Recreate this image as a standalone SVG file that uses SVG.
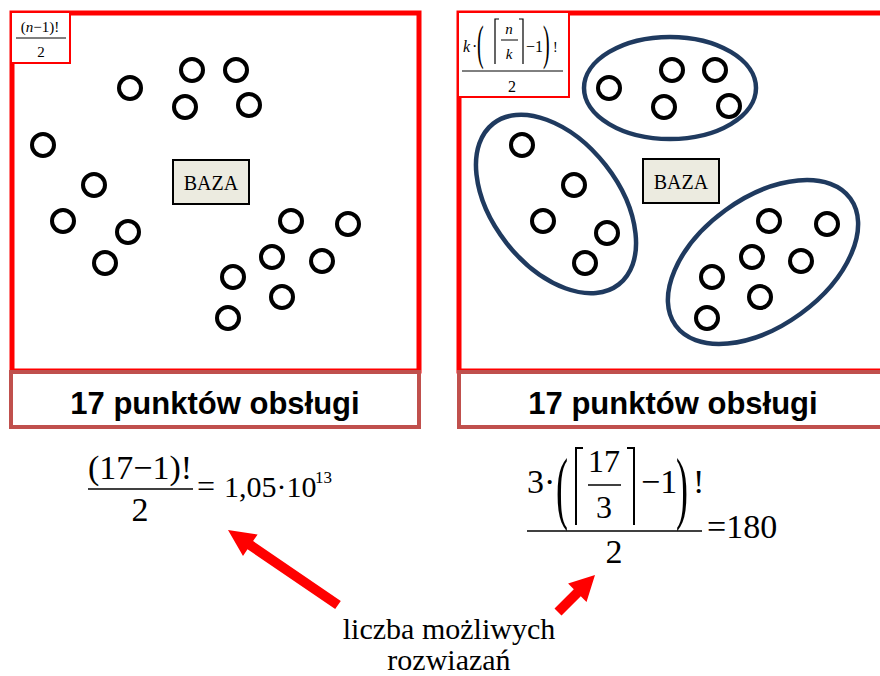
<svg xmlns="http://www.w3.org/2000/svg" width="880" height="676" viewBox="0 0 880 676">
<style>
.panel{fill:none;stroke:#ff0000;stroke-width:5}
.lbl{fill:#ffffff;stroke:#c0504d;stroke-width:4}
.fbox{fill:#ffffff;stroke:#ff0000;stroke-width:2}
.pt{fill:#ffffff;stroke:#000000;stroke-width:4}
.grp{fill:none;stroke:#1f3a5f;stroke-width:4.5}
.baza{fill:#ecebe0;stroke:#000000;stroke-width:2}
.bt{font-family:"Liberation Serif",serif;font-size:20px;fill:#000}
.lt{font-family:"Liberation Sans",Arial,sans-serif;font-weight:bold;font-size:31px;fill:#000}
.m{font-family:"Liberation Serif",serif;fill:#000}
.i{font-style:italic}
.fl{stroke:#000;stroke-width:1.6}
.fls{stroke:#000;stroke-width:1}
.br{fill:none;stroke:#000;stroke-width:2}
.brs{fill:none;stroke:#000;stroke-width:1.2}
.arr{fill:#ff0000}
</style>
<defs>
<circle id="c" r="11" class="pt"/>
</defs>

<g id="left-panel">
<rect class="panel" x="12" y="13" width="407" height="358"/>
<rect class="lbl" x="11" y="372" width="408" height="55"/>
<text class="lt" x="215" y="414" text-anchor="middle">17 punktów obsługi</text>
</g>
<g id="right-panel">
<rect class="panel" x="459" y="13" width="440" height="358"/>
<rect class="lbl" x="459" y="372" width="440" height="55"/>
<text class="lt" x="673" y="414" text-anchor="middle">17 punktów obsługi</text>
</g>

<g id="left-formula-box">
<rect class="fbox" x="11" y="12" width="59" height="51"/>
<text class="m" x="40" y="32" font-size="15" text-anchor="middle">(<tspan class="i">n</tspan>−1)!</text>
<line class="fls" x1="16" y1="38" x2="66" y2="38"/>
<text class="m" x="41" y="57" font-size="15" text-anchor="middle">2</text>
</g>

<g id="right-formula-box">
<rect class="fbox" x="458" y="12" width="111" height="85"/>
<text class="m i" x="463" y="52" font-size="16">k</text>
<text class="m" x="472" y="52" font-size="16">·</text>
<text class="m" font-size="20" transform="matrix(1,0,0,2.4,477,59)">(</text>
<polyline class="brs" points="499,19 495,19 495,64"/>
<text class="m i" x="509" y="34" font-size="15" text-anchor="middle">n</text>
<line class="fls" x1="501" y1="40" x2="518" y2="40"/>
<text class="m i" x="509" y="59" font-size="15" text-anchor="middle">k</text>
<polyline class="brs" points="519,19 523,19 523,64"/>
<text class="m" x="526" y="52" font-size="16">−1</text>
<text class="m" font-size="20" transform="matrix(1,0,0,2.4,543,59)">)</text>
<text class="m" x="553" y="52" font-size="14">!</text>
<line class="fls" x1="462" y1="71" x2="563" y2="71"/>
<text class="m" x="512" y="92" font-size="16" text-anchor="middle">2</text>
</g>

<g id="left-base">
<rect class="baza" x="173" y="160" width="76" height="44"/>
<text class="bt" x="211" y="190" text-anchor="middle">BAZA</text>
</g>
<g id="right-base">
<rect class="baza" x="643" y="159" width="76" height="44"/>
<text class="bt" x="681" y="189" text-anchor="middle">BAZA</text>
</g>

<g id="left-points">
<use href="#c" x="130" y="88"/><use href="#c" x="192" y="70"/><use href="#c" x="236" y="70"/>
<use href="#c" x="185" y="107"/><use href="#c" x="249" y="105"/><use href="#c" x="43" y="145"/>
<use href="#c" x="94" y="185"/><use href="#c" x="63" y="221"/><use href="#c" x="128" y="232"/>
<use href="#c" x="105" y="263"/><use href="#c" x="291" y="221"/><use href="#c" x="348" y="224"/>
<use href="#c" x="272" y="257"/><use href="#c" x="322" y="261"/><use href="#c" x="233" y="277"/>
<use href="#c" x="282" y="297"/><use href="#c" x="228" y="318"/>
</g>

<g id="right-groups">
<ellipse class="grp" cx="670" cy="88" rx="86" ry="51"/>
<ellipse class="grp" cx="556" cy="204" rx="102" ry="63" transform="rotate(52 556 204)"/>
<ellipse class="grp" cx="763" cy="262" rx="108" ry="64" transform="rotate(-36 763 262)"/>
</g>

<g id="right-points">
<use href="#c" x="609" y="88"/><use href="#c" x="672" y="70"/><use href="#c" x="715" y="70"/>
<use href="#c" x="664" y="107"/><use href="#c" x="729" y="106"/><use href="#c" x="522" y="145"/>
<use href="#c" x="574" y="185"/><use href="#c" x="543" y="221"/><use href="#c" x="607" y="233"/>
<use href="#c" x="585" y="263"/><use href="#c" x="769" y="221"/><use href="#c" x="827" y="224"/>
<use href="#c" x="752" y="257"/><use href="#c" x="801" y="261"/><use href="#c" x="712" y="277"/>
<use href="#c" x="760" y="297"/><use href="#c" x="707" y="318"/>
</g>

<g id="formula-left">
<text class="m" x="140" y="479" font-size="34" text-anchor="middle">(17−1)!</text>
<line class="fl" x1="88" y1="489" x2="193" y2="489"/>
<text class="m" x="140" y="521" font-size="34" text-anchor="middle">2</text>
<text class="m" x="197" y="497" font-size="32">=</text>
<text class="m" x="224" y="497" font-size="30">1,05·10</text>
<text class="m" x="315" y="483" font-size="17">13</text>
</g>

<g id="formula-right">
<text class="m" x="527" y="493" font-size="34">3·</text>
<text class="m" font-size="36" transform="matrix(1,0,0,2.25,556,514)">(</text>
<polyline class="br" points="583,448 576,448 576,525"/>
<text class="m" x="604" y="472" font-size="32" text-anchor="middle">17</text>
<line class="fl" x1="588" y1="485" x2="621" y2="485"/>
<text class="m" x="604" y="518" font-size="32" text-anchor="middle">3</text>
<polyline class="br" points="627,448 634,448 634,525"/>
<text class="m" x="641" y="493" font-size="34">−1</text>
<text class="m" font-size="36" transform="matrix(1,0,0,2.25,676,514)">)</text>
<text class="m" x="693" y="493" font-size="34">!</text>
<line class="fl" x1="527" y1="531" x2="702" y2="531"/>
<text class="m" x="614" y="563" font-size="34" text-anchor="middle">2</text>
<text class="m" x="707" y="538" font-size="34">=180</text>
</g>

<g id="connectors">
<polygon class="arr" points="340.8,600.9 253.1,541.1 257.6,534.5 228,530 243.0,555.9 247.5,549.3 335.2,609.1"/>
<polygon class="arr" points="554.5,608.5 573.8,589.2 568.1,583.5 595,575 586.5,601.9 580.8,596.2 561.5,615.5"/>
</g>

<g id="caption">
<text class="m" x="449" y="639" font-size="30" text-anchor="middle">liczba możliwych</text>
<text class="m" x="449" y="670" font-size="30" text-anchor="middle">rozwiazań</text>
</g>
</svg>
